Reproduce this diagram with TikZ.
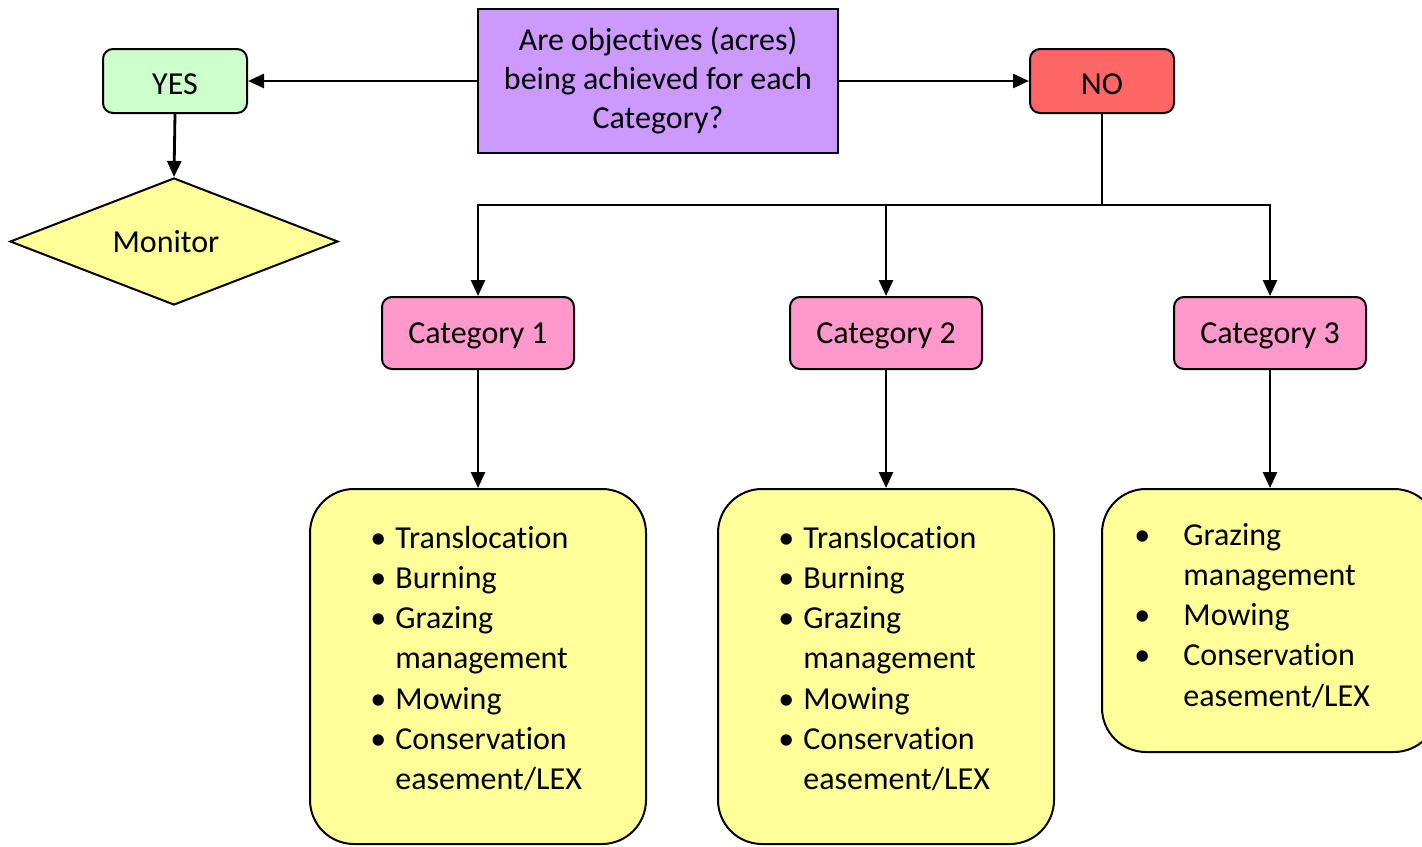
\documentclass[tikz,border=0pt]{standalone}
\usepackage{fontspec}
\setmainfont{Carlito}[Ligatures=NoCommon]
\usetikzlibrary{shapes.geometric,arrows.meta}

\definecolor{yesgreen}{HTML}{CCFFCC}
\definecolor{qpurple}{HTML}{CC99FF}
\definecolor{nored}{HTML}{FF6666}
\definecolor{catpink}{HTML}{FF99CC}
\definecolor{actyellow}{HTML}{FFFF99}

% plain "t" + "i" without the font's ligature
\newcommand\tiplain{t\kern0pt i}
% bullet hung 8.5pt left of the item text
\newcommand\bul{\llap{\makebox[0pt][c]{•}\hspace{8.5pt}}}
% wider bullet indent for the third list
\newcommand\bulw{\llap{\makebox[0pt][c]{•}\hspace{20.5pt}}}
% text lowered slightly inside its box
\newcommand\lowered[1]{\raisebox{-1.5pt}[\height][\depth]{#1}}

\tikzset{
  basefont/.style={font=\fontsize{16}{19.5}\selectfont},
  answer/.style={draw=black, line width=1pt, rounded corners=5pt,
    minimum width=72pt, minimum height=32pt, inner sep=0pt, basefont},
  question/.style={draw=black, line width=1pt, fill=qpurple,
    minimum width=180pt, minimum height=72pt, inner sep=0pt, align=center, basefont},
  category/.style={draw=black, line width=1pt, rounded corners=5pt, fill=catpink,
    minimum width=96pt, minimum height=36pt, inner sep=0pt, basefont},
  actions/.style={draw=black, line width=1pt, rounded corners=22pt, fill=actyellow,
    minimum width=168pt, inner sep=0pt},
  listtext/.style={anchor=base west, inner sep=0pt,
    font=\fontsize{16}{20.15}\selectfont},
  link/.style={line width=1.4pt, -{Triangle[length=8pt,width=7pt]}},
  plain/.style={line width=1.4pt}
}

\begin{document}
\begin{tikzpicture}[x=0.5pt,y=-0.5pt]
\useasboundingbox (0,0) rectangle (1422,846);

% top row: question and its two answers
\node[question] (q) at (658,81) {Are objec\tiplain ves (acres)\\being achieved for each\\Category?};
\node[answer, fill=yesgreen] (yes) at (175,81) {\lowered{YES}};
\node[answer, fill=nored] (no) at (1102,81) {\lowered{NO}};

% outcome for YES
\node[draw=black, line width=1pt, fill=actyellow, diamond, aspect=2.58,
      minimum width=164pt, minimum height=63.5pt, inner sep=0pt, basefont]
      (mon) at (174,241.5) {Monitor\hspace*{8pt}};

% categories
\node[category] (c1) at (478,333) {\lowered{Category 1}};
\node[category] (c2) at (886,333) {\lowered{Category 2}};
\node[category] (c3) at (1270,333) {\lowered{Category 3}};

% management actions per category
\node[actions, minimum height=177.5pt] (a1) at (478,666.5) {};
\node[actions, minimum height=177.5pt] (a2) at (886,666.5) {};
\node[actions, minimum height=131.5pt] (a3) at (1270,620.5) {};

\node[listtext] (t1) at (395,548) {\begin{tabular}[t]{@{}l@{}}
\bul Transloca\tiplain on\\
\bul Burning\\
\bul Grazing\\
management\\
\bul Mowing\\
\bul Conserva\tiplain on\\
easement/LEX
\end{tabular}};
\node[listtext] (t2) at (803,548) {\begin{tabular}[t]{@{}l@{}}
\bul Transloca\tiplain on\\
\bul Burning\\
\bul Grazing\\
management\\
\bul Mowing\\
\bul Conserva\tiplain on\\
easement/LEX
\end{tabular}};
\node[listtext] (t3) at (1183,545) {\begin{tabular}[t]{@{}l@{}}
\bulw Grazing\\
management\\
\bulw Mowing\\
\bulw Conserva\tiplain on\\
easement/LEX
\end{tabular}};

% connectors
\draw[link] (q.west) -- (yes.east);
\draw[link] (q.east) -- (no.west);
\draw[link] (yes.south) -- (mon.north);

\coordinate (jn) at (1102,205);
\draw[plain] (no.south) -- (jn);
\draw[link] (jn) -| (c1.north);
\draw[link] (jn) -| (c2.north);
\draw[link] (jn) -| (c3.north);

\draw[link] (c1.south) -- (a1.north);
\draw[link] (c2.south) -- (a2.north);
\draw[link] (c3.south) -- (a3.north);
\end{tikzpicture}
\end{document}
